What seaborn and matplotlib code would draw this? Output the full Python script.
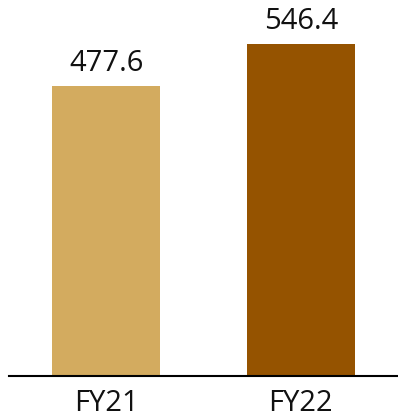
import matplotlib
matplotlib.use("Agg")
import matplotlib.pyplot as plt
import seaborn as sns
import pandas as pd

categories = ["FY21", "FY22"]
values = [477.6, 546.4]
colors = ["#D3AB5F", "#955300"]

sns.set_style("white")
plt.rcParams['font.family'] = ['Open Sans', 'DejaVu Sans']

df = pd.DataFrame({"cat": categories, "val": values})

fig = plt.figure(figsize=(3.98, 4.19), dpi=100)
ax = fig.add_axes([8.75/398, 43/419, 1 - 8.75/398, 376/419])
sns.barplot(data=df, x="cat", y="val", hue="cat", palette=colors, width=0.555,
            legend=False, ax=ax, saturation=1, linewidth=0)
ax.set_xlim(-0.5, 1.5)
ax.set_ylim(0, 619)
for c in ax.containers:
    ax.bar_label(c, labels=[f"{v:.1f}" for v in c.datavalues], padding=6, fontsize=21, color="#111111")
for s in ["top", "right", "left"]:
    ax.spines[s].set_visible(False)
ax.spines["bottom"].set_color("black")
ax.spines["bottom"].set_linewidth(1.5)
ax.set_yticks([])
ax.set_xlabel("")
ax.set_ylabel("")
ax.tick_params(axis="x", length=0, pad=9, labelsize=21, labelcolor="#111111")
fig.savefig("out.png", dpi=100)
